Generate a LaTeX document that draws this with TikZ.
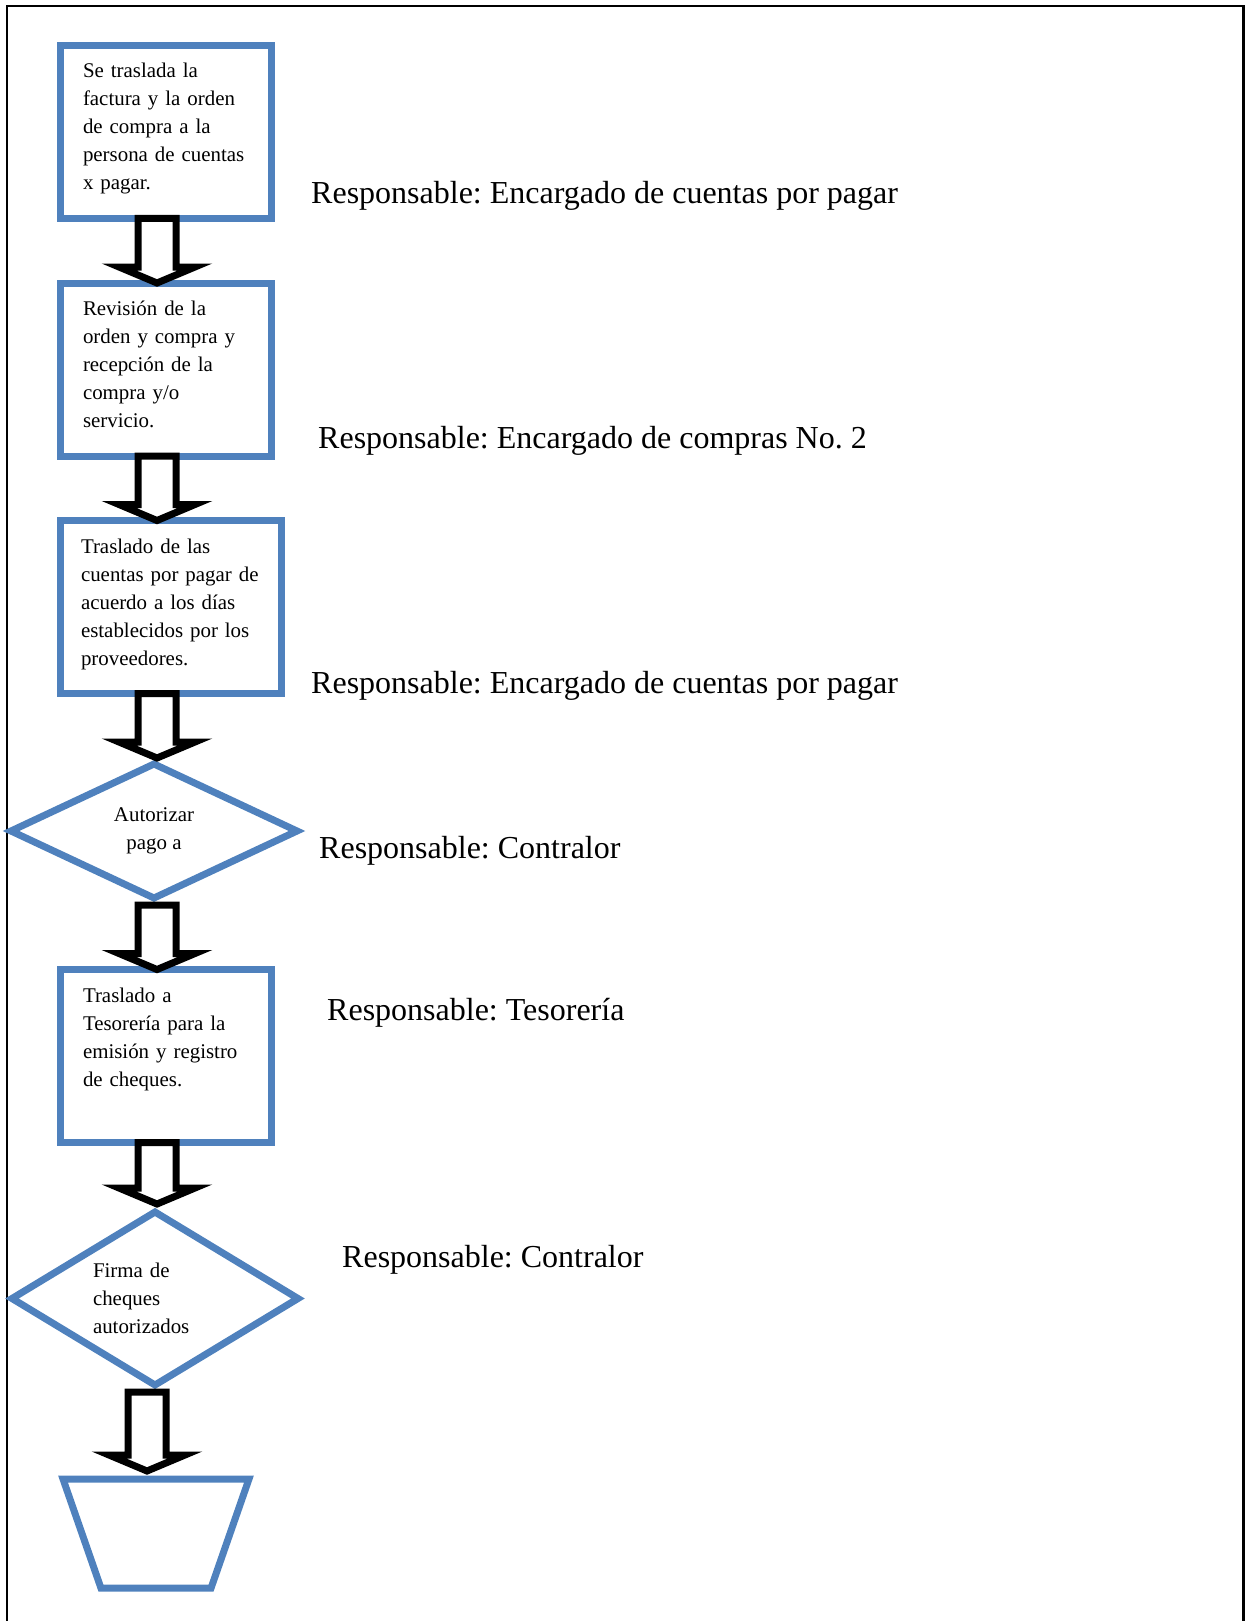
\documentclass[tikz,border=0pt]{standalone}
\usepackage{fontspec}
\setmainfont{Liberation Serif}
\usepackage{tikz}
\usetikzlibrary{shapes.geometric, calc}
\definecolor{azulcaja}{HTML}{4F81BD}
\frenchspacing

\newcommand{\flecha}[2]{% desde, hasta (flecha de bloque hueca)
  \draw[black, line width=7pt, fill=white, line join=miter]
    let \p1=(#1), \p2=(#2) in
    (\x1-19pt,\y1) -- (\x1-19pt,\y2+16pt) -- (\x1-38pt,\y2+16pt) -- (\x1,\y2)
    -- (\x1+38pt,\y2+16pt) -- (\x1+19pt,\y2+16pt) -- (\x1+19pt,\y1) -- cycle;
}

\begin{document}
\begin{tikzpicture}[x=1pt, y=-1pt,
  caja/.style={draw=azulcaja, line width=7pt, rectangle, outer sep=0pt,
    align=left, inner xsep=22.5pt, inner ysep=0pt,
    text height=32.5pt, text depth=140.5pt,
    font=\fontsize{20.9}{28}\selectfont},
  rombo/.style={draw=azulcaja, line width=7pt, diamond, aspect=1.8,
    inner sep=0pt, outer sep=0pt, font=\fontsize{20.9}{28}\selectfont},
  resp/.style={anchor=base west, inner sep=0pt,
    font=\fontsize{32}{38}\selectfont}]
  \useasboundingbox (0,0) rectangle (1245,1621);

  % marco abierto por abajo
  \draw[line width=2.5pt] (7,1621) -- (7,6) -- (1243.5,6) -- (1243.5,1621);

  \node[caja, text width=166pt] (p1) at (166,132)
    {Se traslada la\\factura y la orden\\de compra a la\\persona de cuentas\\x pagar.};
  \node[caja, text width=166pt] (p2) at (166,369.5)
    {Revisión de la\\orden y compra y\\recepción de la\\compra y/o\\servicio.};
  \node[caja, text width=180pt, inner xsep=20.5pt] (p3) at (171,607)
    {Traslado de las\\cuentas por pagar de\\acuerdo a los días\\establecidos por los\\proveedores.};
  \node[rombo, align=center, minimum width=286pt, minimum height=134pt] (d1)
    at (154,831) {Autorizar\\pago a};
  \node[caja, text width=166pt] (p4) at (166,1056)
    {Traslado a\\Tesorería para la\\emisión y registro\\de cheques.};
  \node[rombo, align=left, text width=124pt, minimum width=286pt,
    minimum height=173pt] (d2) at (155,1298.5)
    {Firma de\\cheques\\autorizados};
  \node[draw=azulcaja, line width=7pt, trapezium, shape border rotate=180,
    trapezium left angle=71, trapezium right angle=71, trapezium stretches=true,
    minimum width=186pt, minimum height=109pt, inner sep=2pt, outer sep=0pt]
    (fin) at (156,1533.5) {};

  \coordinate (eje) at (157,0);
  \coordinate (eje2) at (147,0);
  \flecha{p1.south -| eje}{p2.north -| eje}
  \flecha{p2.south -| eje}{p3.north -| eje}
  \flecha{p3.south -| eje}{$(d1.north -| eje)+(0,-6)$}
  \flecha{$(d1.south -| eje)+(0,7)$}{p4.north -| eje}
  \flecha{p4.south -| eje}{$(d2.north -| eje)+(0,-8)$}
  \flecha{$(d2.south -| eje2)+(0,7)$}{$(fin.north -| eje2)+(0,-8)$}

  \node[resp] (r1) at (311,203.5) {Responsable: Encargado de cuentas por pagar};
  \node[resp] (r2) at (318,448.5) {Responsable: Encargado de compras No. 2};
  \node[resp] (r3) at (311,693.5) {Responsable: Encargado de cuentas por pagar};
  \node[resp] (r4) at (319,858) {Responsable: Contralor};
  \node[resp] (r5) at (327,1020) {Responsable: Tesorería};
  \node[resp] (r6) at (342,1267) {Responsable: Contralor};
\end{tikzpicture}
\end{document}
